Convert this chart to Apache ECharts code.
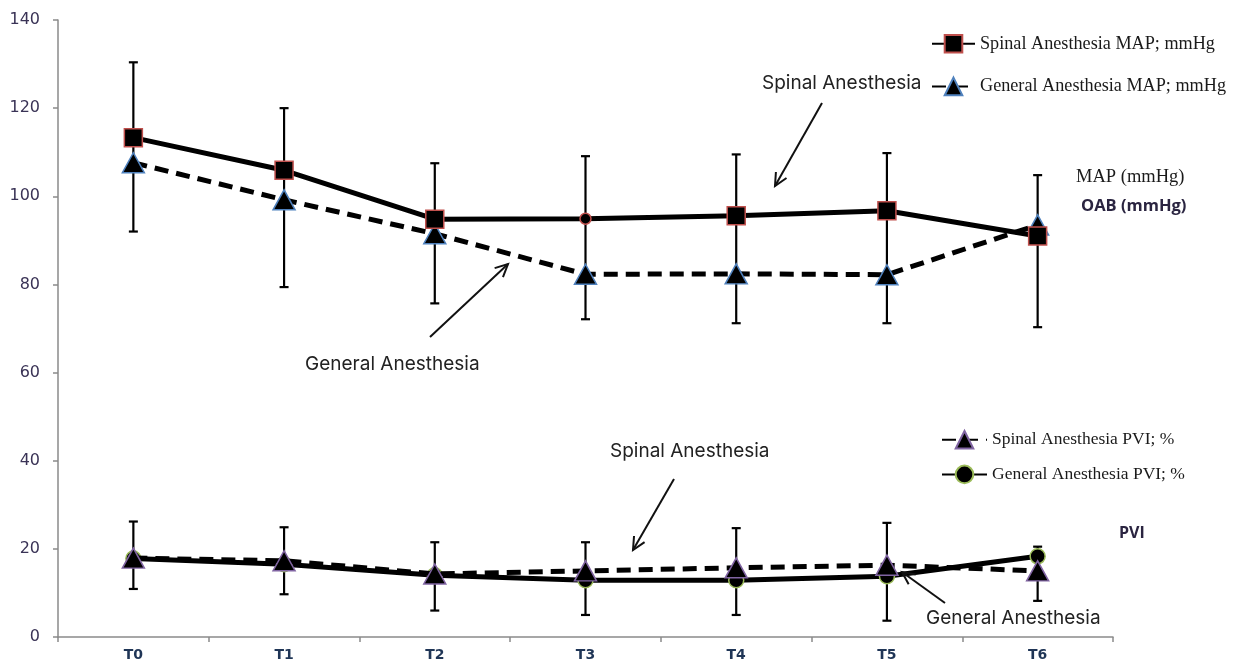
<!DOCTYPE html>
<html>
<head>
<meta charset="utf-8">
<script src="https://cdn.jsdelivr.net/npm/echarts@6/dist/echarts.min.js"></script>
<style>html,body{margin:0;padding:0;background:#fff;}#c{width:1234px;height:670px;}</style>
</head>
<body>
<div id="c"></div>
<script>
const categories = ['T0', 'T1', 'T2', 'T3', 'T4', 'T5', 'T6'];
const yTicks = [0, 20, 40, 60, 80, 100, 120, 140];
const spinalMAP = [113.3, 105.9, 94.8, 94.9, 95.6, 96.7, 91.0];
const generalMAP = [107.6, 99.2, 91.5, 82.3, 82.4, 82.2, 93.5];
const mapErrHigh = [130.4, 120.0, 107.5, 109.1, 109.5, 109.8, 104.8];
const mapErrLow = [92.0, 79.4, 75.7, 72.1, 71.2, 71.2, 70.3];
const spinalPVI = [17.9, 17.3, 14.3, 15.0, 15.7, 16.3, 15.0];
const generalPVI = [17.8, 16.5, 14.0, 12.9, 12.9, 13.8, 18.3];
const pviErrHigh = [26.2, 24.9, 21.5, 21.5, 24.7, 25.9, 20.5];
const pviErrLow = [10.9, 9.7, 6.0, 5.0, 5.0, 3.7, 8.2];

const chart = echarts.init(document.getElementById('c'));

function errData(lo, hi) { return categories.map((c, i) => [i, lo[i], hi[i]]); }
function errRender(params, api) {
  const i = api.value(0);
  const top = api.coord([i, api.value(2)]);
  const bot = api.coord([i, api.value(1)]);
  const w = 4.5;
  const st = { stroke: '#000', lineWidth: 2.2 };
  return { type: 'group', children: [
    { type: 'line', shape: { x1: top[0], y1: top[1], x2: bot[0], y2: bot[1] }, style: st },
    { type: 'line', shape: { x1: top[0] - w, y1: top[1], x2: top[0] + w, y2: top[1] }, style: st },
    { type: 'line', shape: { x1: bot[0] - w, y1: bot[1], x2: bot[0] + w, y2: bot[1] }, style: st }
  ]};
}
function arrow(x1, y1, x2, y2) {
  const a = Math.atan2(y2 - y1, x2 - x1), L = 14, s = 0.45;
  return [
    { type: 'line', shape: { x1, y1, x2, y2 }, style: { stroke: '#111', lineWidth: 2 }, z: 50 },
    { type: 'polyline', shape: { points: [
      [x2 - L * Math.cos(a - s), y2 - L * Math.sin(a - s)], [x2, y2],
      [x2 - L * Math.cos(a + s), y2 - L * Math.sin(a + s)]] },
      style: { stroke: '#111', lineWidth: 2, fill: null }, z: 50 }
  ];
}
const sansAnn = { fill: '#222', font: '19px Inter, "Open Sans", sans-serif' };

const dash = [14, 8];
const spinalMAPData = spinalMAP.map((v, i) => i === 3 ? { value: v, symbol: 'circle', symbolSize: 11 } : v);
const legendFont = '"Liberation Serif", "DejaVu Serif", serif';

chart.setOption({
  animation: false,
  grid: { left: 58, right: 121, top: 20, bottom: 33, containLabel: false },
  xAxis: {
    type: 'category', data: categories, boundaryGap: true,
    axisLine: { lineStyle: { color: '#8a8a8a', width: 1.5 } },
    axisTick: { show: true, length: 5, lineStyle: { color: '#8a8a8a', width: 1.5 } },
    axisLabel: { color: '#1f3556', fontSize: 14, fontWeight: 'bold', margin: 11, fontFamily: '"DejaVu Sans", sans-serif' }
  },
  yAxis: {
    type: 'value', min: yTicks[0], max: yTicks[yTicks.length - 1], interval: 20,
    splitLine: { show: false },
    axisLine: { show: true, lineStyle: { color: '#8a8a8a', width: 1.5 } },
    axisTick: { show: true, length: 5, lineStyle: { color: '#8a8a8a', width: 1.5 } },
    axisLabel: { color: '#3a3356', fontSize: 16, margin: 18, fontFamily: '"DejaVu Sans", sans-serif' }
  },
  legend: [
    { data: ['Spinal Anesthesia MAP; mmHg', 'General Anesthesia MAP; mmHg'], orient: 'vertical',
      left: 931, top: 34, padding: 0, itemWidth: 43, itemHeight: 22, itemGap: 23,
      textStyle: { fontFamily: legendFont, fontSize: 18.2, color: '#1a1a1a' } },
    { data: ['Spinal Anesthesia PVI; %', 'General Anesthesia PVI; %'], orient: 'vertical',
      left: 941, top: 430, padding: 0, itemWidth: 45, itemHeight: 22, itemGap: 15,
      textStyle: { fontFamily: legendFont, fontSize: 17.5, color: '#1a1a1a' } }
  ],
  graphic: [
    { type: 'text', left: 762, top: 74, style: Object.assign({ text: 'Spinal Anesthesia' }, sansAnn) },
    { type: 'text', left: 305, top: 355, style: Object.assign({ text: 'General Anesthesia' }, sansAnn) },
    { type: 'text', left: 610, top: 442, style: Object.assign({ text: 'Spinal Anesthesia' }, sansAnn) },
    { type: 'text', left: 926, top: 609, style: Object.assign({ text: 'General Anesthesia' }, sansAnn) },
    { type: 'text', left: 1076, top: 168, style: { text: 'MAP (mmHg)', fill: '#1a1a1a', font: '18.5px "Liberation Serif", serif' } },
    { type: 'text', left: 1081, top: 198, style: { text: 'OAB (mmHg)', fill: '#2a2440', font: 'bold 16.5px "Open Sans", sans-serif' } },
    { type: 'text', left: 1119, top: 525, style: { text: 'PVI', fill: '#2a2440', font: 'bold 16px "Open Sans", sans-serif' } },
    ...arrow(822, 103, 775, 186),
    ...arrow(430, 337, 508, 264),
    ...arrow(674, 479, 633, 550),
    ...arrow(945, 603, 902, 572)
  ],
  series: [
    { type: 'custom', name: 'errMAP', data: errData(mapErrLow, mapErrHigh), renderItem: errRender, z: 1,
      encode: { x: 0, y: [1, 2] }, silent: true },
    { type: 'custom', name: 'errPVI', data: errData(pviErrLow, pviErrHigh), renderItem: errRender, z: 1,
      encode: { x: 0, y: [1, 2] }, silent: true },
    { type: 'line', name: 'Spinal Anesthesia MAP; mmHg', data: spinalMAPData, z: 5,
      symbol: 'rect', symbolSize: 18, showAllSymbol: true,
      lineStyle: { color: '#000', width: 5, type: 'solid' },
      itemStyle: { color: '#000', borderColor: '#c0504d', borderWidth: 1.5 } },
    { type: 'line', name: 'General Anesthesia MAP; mmHg', data: generalMAP, z: 4,
      symbol: 'triangle', symbolSize: [22, 20], showAllSymbol: true,
      lineStyle: { color: '#000', width: 5, type: dash },
      itemStyle: { color: '#000', borderColor: '#4f81bd', borderWidth: 1.5 } },
    { type: 'line', name: 'General Anesthesia PVI; %', data: generalPVI, z: 4,
      symbol: 'circle', symbolSize: 15, showAllSymbol: true,
      lineStyle: { color: '#000', width: 5, type: 'solid' },
      itemStyle: { color: '#000', borderColor: '#9bbb59', borderWidth: 1.5 } },
    { type: 'line', name: 'Spinal Anesthesia PVI; %', data: spinalPVI, z: 5,
      symbol: 'triangle', symbolSize: [22, 20], showAllSymbol: true,
      lineStyle: { color: '#000', width: 5, type: dash },
      itemStyle: { color: '#000', borderColor: '#8064a2', borderWidth: 1.5 } }
  ]
});
</script>
</body>
</html>
